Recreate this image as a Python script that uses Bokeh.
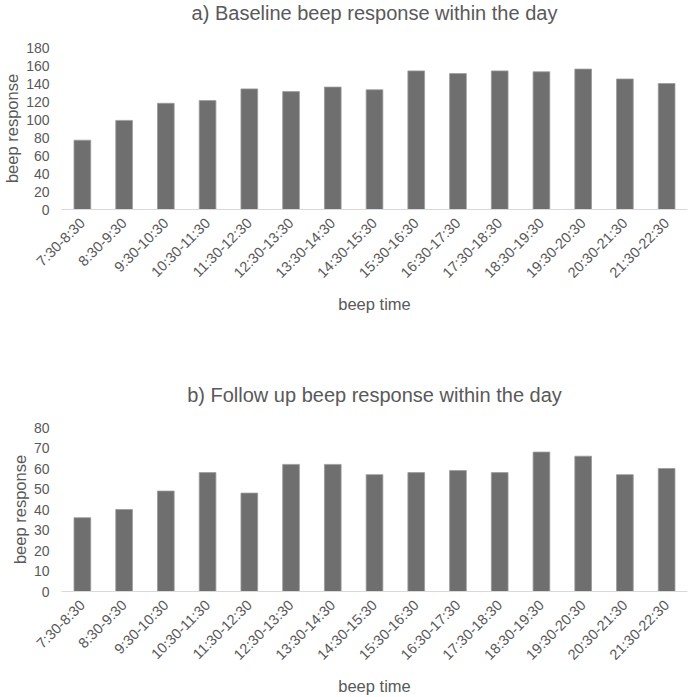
from math import pi
from bokeh.plotting import figure
from bokeh.layouts import column
from bokeh.models import FactorRange, Range1d, FixedTicker, Title
from bokeh.embed import file_html
from bokeh.resources import INLINE

categories = ["7:30-8:30", "8:30-9:30", "9:30-10:30", "10:30-11:30", "11:30-12:30",
              "12:30-13:30", "13:30-14:30", "14:30-15:30", "15:30-16:30", "16:30-17:30",
              "17:30-18:30", "18:30-19:30", "19:30-20:30", "20:30-21:30", "21:30-22:30"]
baseline = [77, 99, 118, 121, 134, 131, 136, 133, 154, 151, 154, 153, 156, 145, 140]
followup = [36, 40, 49, 58, 48, 62, 62, 57, 58, 59, 58, 68, 66, 57, 60]

FONT = "Liberation Sans"
GRAY = "#595959"


def make(title, values, ymax, ystep, height, top, bottom, gap):
    p = figure(x_range=FactorRange(*categories, range_padding=0),
               y_range=Range1d(0, ymax), width=690, height=height,
               output_backend="svg", toolbar_location=None, title=None,
               min_border_left=58, min_border_right=3,
               min_border_top=top, min_border_bottom=bottom)
    spacer = Title(text=" ", text_font_size="1px", standoff=gap)
    p.add_layout(spacer, "above")
    t = Title(text=title, align="center", vertical_align="top",
              text_font=FONT, text_font_size="20px", text_font_style="normal",
              text_color=GRAY, standoff=0)
    p.add_layout(t, "above")
    p.vbar(x=categories, top=values, width=0.4, fill_color="#6f6f6f",
           line_color="#9a9a9a", line_width=0.8)
    p.xgrid.visible = False
    p.ygrid.visible = False
    p.outline_line_color = None
    p.yaxis.ticker = FixedTicker(ticks=list(range(0, ymax + 1, ystep)))
    p.yaxis.axis_line_color = None
    p.yaxis.major_tick_line_color = None
    p.yaxis.minor_tick_line_color = None
    p.yaxis.major_label_text_font = FONT
    p.yaxis.major_label_text_font_size = "14px"
    p.yaxis.major_label_text_color = GRAY
    p.yaxis.axis_label = "beep response"
    p.yaxis.axis_label_text_font = FONT
    p.yaxis.axis_label_text_font_size = "16.5px"
    p.yaxis.axis_label_text_font_style = "normal"
    p.yaxis.axis_label_text_color = GRAY
    p.yaxis.axis_label_standoff = 2
    p.yaxis.major_label_standoff = 6
    p.xaxis.axis_line_color = "#d9d9d9"
    p.xaxis.major_tick_line_color = None
    p.xaxis.minor_tick_line_color = None
    p.xaxis.major_label_orientation = pi / 4
    p.xaxis.major_label_text_font = FONT
    p.xaxis.major_label_text_font_size = "14.5px"
    p.xaxis.major_label_text_color = GRAY
    p.xaxis.major_label_standoff = 5
    p.xaxis.axis_label = "beep time"
    p.xaxis.axis_label_text_font = FONT
    p.xaxis.axis_label_text_font_size = "16.5px"
    p.xaxis.axis_label_text_font_style = "normal"
    p.xaxis.axis_label_text_color = GRAY
    p.xaxis.axis_label_standoff = 5
    return p


p1 = make("a) Baseline beep response within the day", baseline, 180, 20, 382, 47, 173, 19)
p2 = make("b) Follow up beep response within the day", followup, 80, 10, 315, 45, 105, 17)

layout = column(p1, p2, spacing=0)
open("out.html", "w").write(file_html(layout, INLINE))
